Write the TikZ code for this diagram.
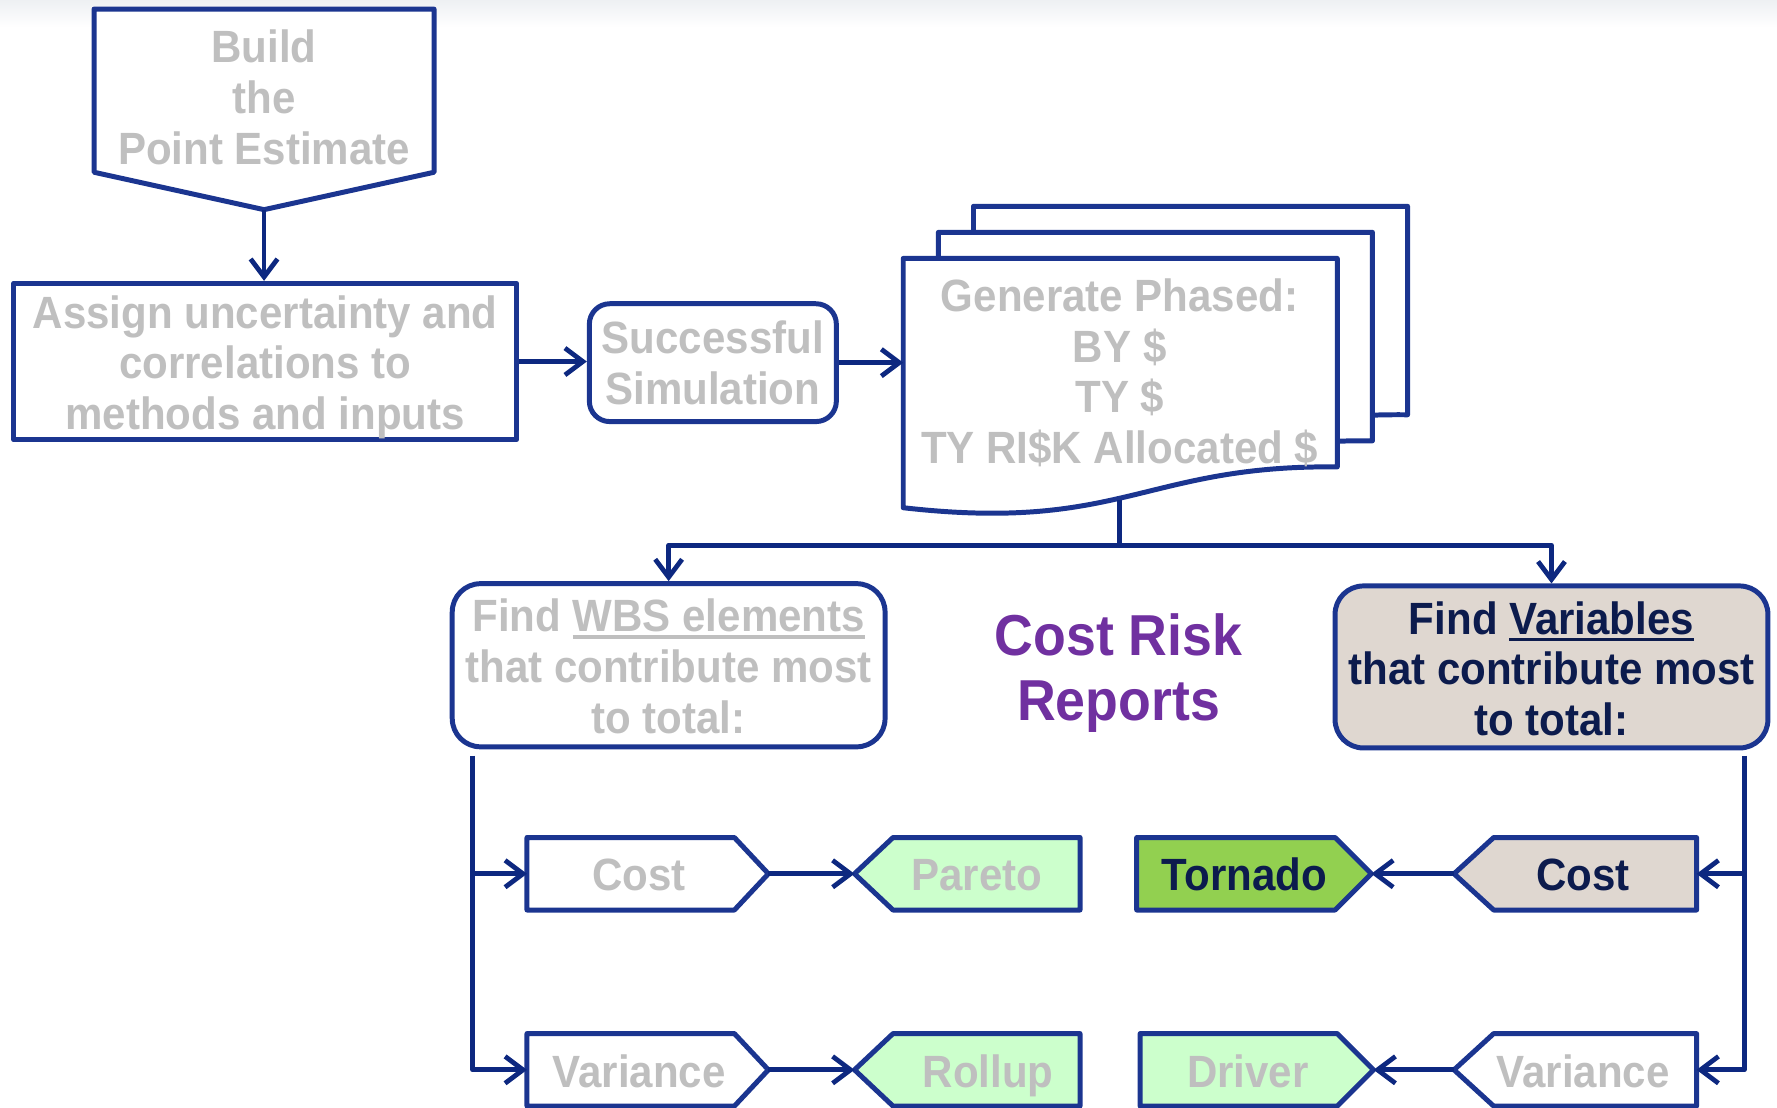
\documentclass[tikz,border=0pt]{standalone}
\usepackage{fontspec}
\setmainfont[FakeStretch=0.93]{Liberation Sans}
\usetikzlibrary{arrows.meta}

\definecolor{boxblue}{HTML}{1B3590}
\definecolor{linkblue}{HTML}{0D2880}
\definecolor{txtgray}{HTML}{BFBFBF}
\definecolor{navytxt}{HTML}{0C1B4D}
\definecolor{beige}{HTML}{DFD7D0}
\definecolor{mint}{HTML}{CCFFCC}
\definecolor{leaf}{HTML}{92D050}
\definecolor{plum}{HTML}{7030A0}
\definecolor{haze}{HTML}{EEF0F3}

\newcommand\bodyfont{\fontsize{22.7pt}{25.5pt}\selectfont\bfseries}
\newcommand\titlefont{\fontsize{29pt}{32.6pt}\selectfont\bfseries}
% thick underline that follows the current text colour
\newcommand\ulbox[1]{\leavevmode\vtop{\hbox{#1}\kern1.6pt\hrule height 1.8pt}}

\tikzset{
  outline/.style={draw=boxblue, line width=2.5pt, line join=round},
  link/.style={draw=linkblue, line width=2.4pt, line join=round},
  conn/.style={link, -{Straight Barb[length=9pt,width=13.5pt]}},
  lbl/.style={font=\bodyfont, text=txtgray, align=center, inner sep=0pt},
  dark/.style={lbl, text=navytxt},
  % one-line tags: centre on the capitals, ignore descenders
  tag/.style={text height=16.4pt, text depth=0pt},
  panel/.style={outline, fill=white, inner sep=0pt},
}

\begin{document}
\begin{tikzpicture}[x=0.02cm, y=-0.02cm]
\useasboundingbox (0,0) rectangle (1568,977);
\shade[top color=haze, bottom color=white, draw=none] (0,0) rectangle (1568,24);

% --- top chain -------------------------------------------------------
\draw[outline, fill=white] (83,8) -- (383,8) -- (383,152) -- (233,185) -- (83,152) -- cycle;
\coordinate (buildtip) at (233,185);
\node[lbl] (build) at (233,86) {Build\\the\\Point Estimate};

\node[panel, minimum width=8.88cm, minimum height=2.76cm] (assign) at (234,319) {};
\node[lbl] (assigntxt) at (234,324) {Assign uncertainty and\\correlations to\\methods and inputs};

\node[panel, rounded corners=0.36cm, minimum width=4.36cm, minimum height=2.08cm] (succ) at (629,320) {};
\node[lbl] (succtxt) at (629,320.5) {Successful\\Simulation};

% stacked document pages, back to front
\foreach \dx/\dy in {62/-46, 31/-23, 0/0}{
  \begin{scope}[shift={(\dx,\dy)}]
    \draw[outline, fill=white] (797,228) -- (1180,228) -- (1180,412)
      .. controls (1010,410) and (990,470) .. (797,448) -- cycle;
  \end{scope}
}
\coordinate (docin) at (797,320);
\coordinate (docout) at (988,441);
\node[lbl] (doctxt) at (988,329) {Generate Phased:\\BY \$\\TY \$\\TY RI\$K Allocated \$};

\draw[conn] (buildtip) -- (buildtip |- assign.north);
\draw[conn] (assign.east) -- (assign.east -| succ.west);
\draw[conn] (succ.east) -- (succ.east -| docin);

% --- split into the two report branches ------------------------------
\node[panel, rounded corners=0.5cm, minimum width=7.64cm, minimum height=2.88cm] (wbs) at (590,587) {};
\node[lbl] (wbstxt) at (590,588) {Find \ulbox{WBS elements}\\that contribute most\\to total:};

\node[panel, fill=beige, rounded corners=0.5cm, minimum width=7.64cm, minimum height=2.86cm] (vars) at (1369,588.5) {};
\node[dark] (varstxt) at (1369,590) {Find \ulbox{Variables}\\that contribute most\\to total:};

\node[font=\titlefont, text=plum, align=center, inner sep=0pt] (title) at (987,593.5) {Cost Risk\\Reports};

\draw[link] (docout) -- (988,481) coordinate (split);
\draw[conn] (split) -| (wbs.north);
\draw[conn] (split) -| (vars.north);

% --- left branch: WBS elements ---------------------------------------
\draw[outline, fill=white] (465,739) -- (648,739) -- (678,771) -- (648,803) -- (465,803) -- cycle;
\node[lbl, tag] (costl) at (564,771) {Cost};
\coordinate (costlin) at (465,771);
\coordinate (costltip) at (678,771);

\draw[outline, fill=mint] (754,771) -- (788,739) -- (953,739) -- (953,803) -- (788,803) -- cycle;
\node[lbl, tag] (pareto) at (862,771) {Pareto};
\coordinate (paretotip) at (754,771);

\draw[outline, fill=white] (465,912) -- (648,912) -- (678,944) -- (648,976) -- (465,976) -- cycle;
\node[lbl, tag] (varl) at (564,945) {Variance};
\coordinate (varlin) at (465,944);
\coordinate (varltip) at (678,944);

\draw[outline, fill=mint] (754,944) -- (788,912) -- (953,912) -- (953,976) -- (788,976) -- cycle;
\node[lbl, tag] (rollup) at (872,945) {Rollup};
\coordinate (rolluptip) at (754,944);

\coordinate (ltop) at (417,667);
\draw[conn] (ltop) |- (costlin);
\draw[conn] (ltop) |- (varlin);
\draw[conn] (costltip) -- (paretotip);
\draw[conn] (varltip) -- (rolluptip);

% --- right branch: variables -----------------------------------------
\draw[outline, fill=leaf] (1003,739) -- (1178,739) -- (1210,771) -- (1178,803) -- (1003,803) -- cycle;
\node[dark, tag] (tornado) at (1098,771) {Tornado};
\coordinate (tornadotip) at (1210,771);

\draw[outline, fill=beige] (1283,771) -- (1318,739) -- (1497,739) -- (1497,803) -- (1318,803) -- cycle;
\node[dark, tag] (costr) at (1397,771) {Cost};
\coordinate (costrin) at (1497,771);
\coordinate (costrtip) at (1283,771);

\draw[outline, fill=mint] (1006,912) -- (1180,912) -- (1212,944) -- (1180,976) -- (1006,976) -- cycle;
\node[lbl, tag] (driver) at (1101,945) {Driver};
\coordinate (drivertip) at (1212,944);

\draw[outline, fill=white] (1283,944) -- (1318,912) -- (1497,912) -- (1497,976) -- (1318,976) -- cycle;
\node[lbl, tag] (varr) at (1397,945) {Variance};
\coordinate (varrin) at (1497,944);
\coordinate (varrtip) at (1283,944);

\coordinate (rtop) at (1539,667);
\draw[conn] (rtop) |- (costrin);
\draw[conn] (rtop) |- (varrin);
\draw[conn] (costrtip) -- (tornadotip);
\draw[conn] (varrtip) -- (drivertip);
\end{tikzpicture}
\end{document}
